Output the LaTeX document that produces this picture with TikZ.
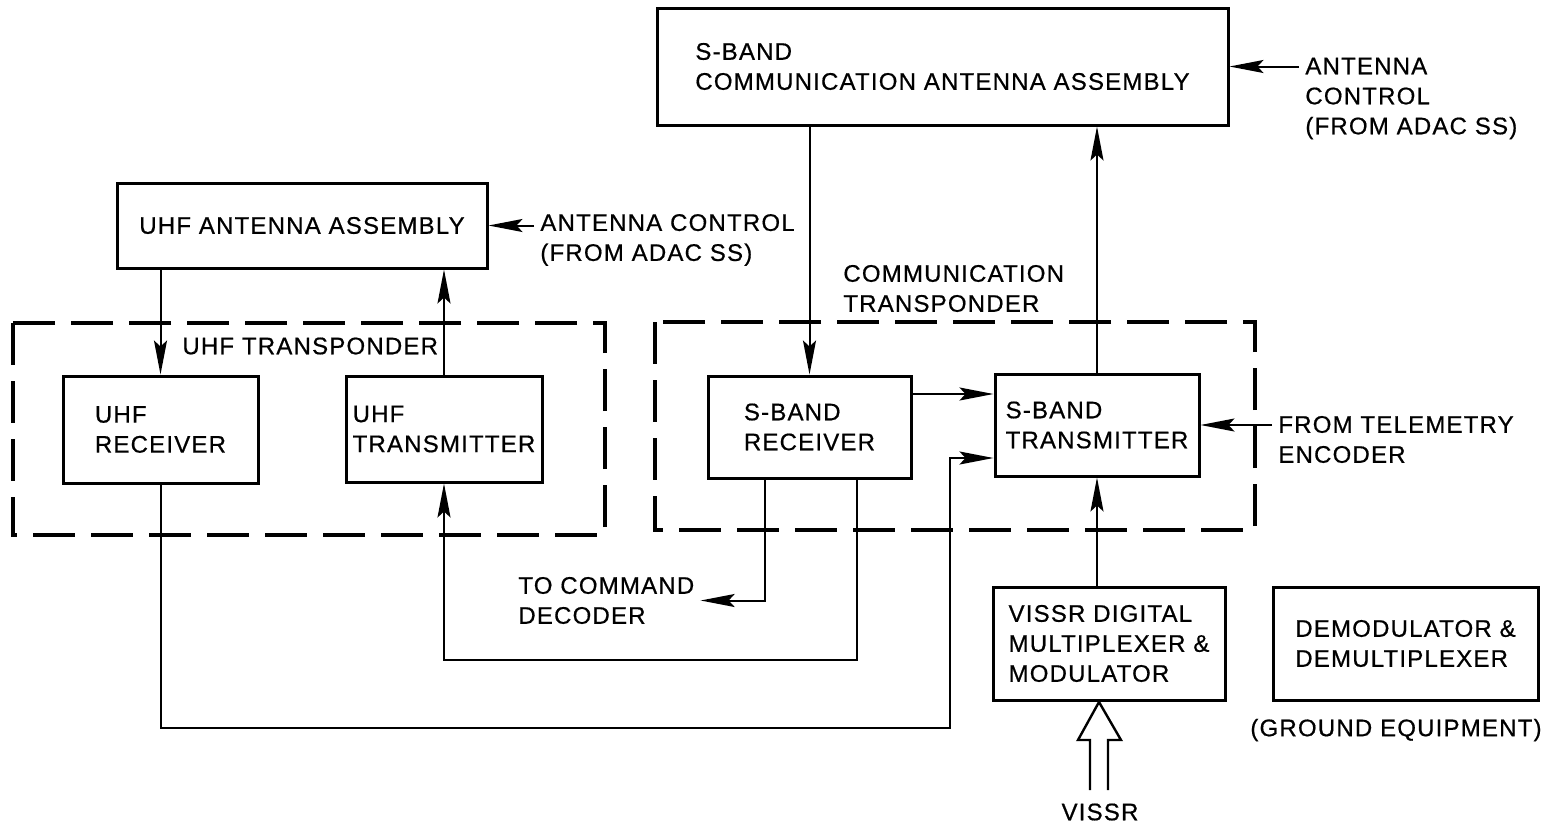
\documentclass[tikz,border=0pt]{standalone}
\usepackage{fontspec}
\setmainfont{Liberation Sans}[LetterSpace=5,FakeBold=0.6]
\usetikzlibrary{arrows.meta}

\tikzset{
  blk/.style={draw, line width=1.5pt, align=left, inner sep=0pt},
  lbl/.style={align=left, inner sep=3pt},
  arr/.style={line width=1pt, -{Stealth[length=17pt,width=6.5pt,inset=3pt]}},
  ln/.style={line width=1pt},
  trbox/.style={line width=2pt, dash pattern=on 21pt off 8pt},
}

\begin{document}
\begin{tikzpicture}[x=0.5pt,y=-0.5pt,font=\fontsize{12}{15}\selectfont]
\useasboundingbox (0,0) rectangle (1560,826);

% antennas
\node[blk, minimum width=285.5pt, minimum height=58.5pt] (sant) at (942.5,66.5) {S-BAND\\COMMUNICATION ANTENNA ASSEMBLY};
\node[blk, minimum width=185pt, minimum height=42.5pt] (uant) at (302,225.5) {UHF ANTENNA ASSEMBLY};
\node[lbl, anchor=west] (sctl) at (1299,98.5) {ANTENNA\\CONTROL\\(FROM ADAC SS)};
\node[lbl, anchor=west] (uctl) at (534,240) {ANTENNA CONTROL\\(FROM ADAC SS)};

% transponders
\draw[trbox] (13,323) rectangle (605,535);
\draw[trbox] (655,322) rectangle (1255,530);
\node[lbl, anchor=west] (utp) at (176,346) {UHF TRANSPONDER};
\node[lbl, anchor=west] (ctp) at (837,288.5) {COMMUNICATION\\TRANSPONDER};

\node[blk, minimum width=97.5pt, minimum height=53.5pt] (urx) at (160.5,429.5) {UHF\\RECEIVER};
\node[blk, minimum width=98pt, minimum height=53pt] (utx) at (444,429) {UHF\\TRANSMITTER};
\node[blk, minimum width=101.5pt, minimum height=51pt] (srx) at (809.5,427) {S-BAND\\RECEIVER};
\node[blk, minimum width=102pt, minimum height=51pt] (stx) at (1097,425) {S-BAND\\TRANSMITTER};
\node[lbl, anchor=west] (tlm) at (1272,439.5) {FROM TELEMETRY\\ENCODER};
\node[lbl, anchor=west] (cmd) at (512,600.5) {TO COMMAND\\DECODER};

% multiplexer, ground side
\node[blk, minimum width=116pt, minimum height=56.5pt] (vmux) at (1109,643.5) {VISSR DIGITAL\\MULTIPLEXER \&\\MODULATOR};
\node[blk, minimum width=132.5pt, minimum height=56.5pt] (demod) at (1405.5,643.5) {DEMODULATOR \&\\DEMULTIPLEXER};
\node[lbl] (gnd) at (1396,730) {(GROUND EQUIPMENT)};
\node[lbl] (vissr) at (1100,812) {VISSR};

\coordinate (lp1) at (950,728);
\coordinate (lp2) at (700,660);

\draw[arr] (urx.north |- uant.south) -- (urx.north);
\draw[arr] (utx.north) -- (utx.north |- uant.south);
\draw[arr] (uant.east -| uctl.west) -- (uant.east);
\draw[arr] (srx.north |- sant.south) -- (srx.north);
\draw[arr] (stx.north) -- (stx.north |- sant.south);
\draw[arr] (sant.east -| sctl.west) -- (sant.east);
\draw[arr] ([yshift=16.5pt]srx.east) -- ([yshift=16.5pt]srx.east -| stx.west);
\draw[arr] (stx.east -| tlm.west) -- (stx.east);
\draw[arr] (urx.south) |- (lp1) |- ([yshift=-16.5pt]stx.west);
\draw[arr] ([xshift=-22.25pt]srx.south) |- (cmd.east);
\draw[arr] ([xshift=23.5pt]srx.south) |- (lp2) -| (utx.south);
\draw[arr] (vmux.north -| stx.south) -- (stx.south);

% hollow input arrow
\draw[line width=1.2pt, line join=miter] (1090,790) -- (1090,740) -- (1078,740) -- (1099,702)
  -- (1121,740) -- (1108,740) -- (1108,790);
\end{tikzpicture}
\end{document}
